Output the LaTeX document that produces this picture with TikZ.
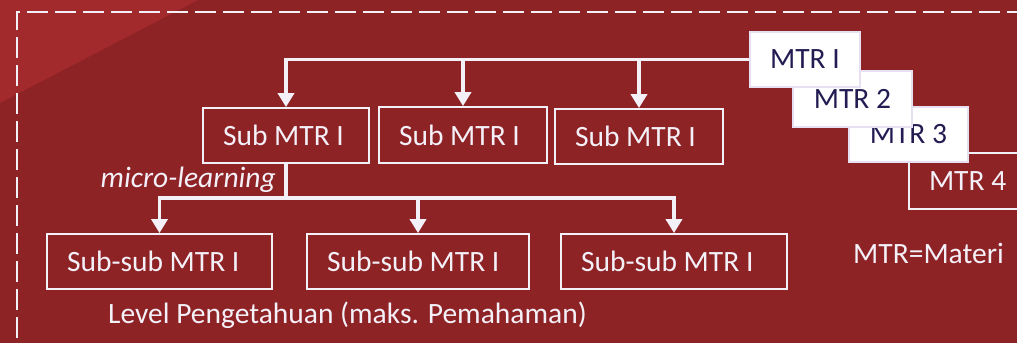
\documentclass[tikz,border=0pt]{standalone}
\usepackage{fontspec}
\setmainfont{Carlito}
\usetikzlibrary{arrows.meta}
\definecolor{bgdark}{HTML}{8E2326}
\definecolor{bglight}{HTML}{A2292C}
\definecolor{fg}{HTML}{F4F0F8}
\definecolor{navy}{HTML}{221C52}
\definecolor{mtredge}{HTML}{E6E0F2}
\newcommand{\bigfont}{\fontsize{29.5}{34}\selectfont}
\newcommand{\lbox}[2]{\makebox[#1][l]{#2}}
\tikzset{
  box/.style={draw=fg, line width=1.8pt, text=fg, inner ysep=0pt, inner xsep=20pt, font=\bigfont},
  wbox/.style={draw=mtredge, line width=1.5pt, fill=white, text=navy, inner sep=0pt, font=\bigfont},
  conn/.style={draw=fg, line width=3.5pt},
  arr/.style={conn, -{Triangle[width=16pt,length=14pt]}},
  label/.style={text=fg, inner sep=0pt, font=\bigfont},
}
\begin{document}
\begin{tikzpicture}[x=1pt,y=-1pt]
\useasboundingbox (0,0) rectangle (1017,343);
\clip (0,0) rectangle (1017,343);
\fill[bgdark] (0,0) rectangle (1017,343);
\fill[bglight] (0,0) -- (198,0) -- (0,103) -- cycle;
\draw[fg, line width=2pt, dash pattern=on 21pt off 7pt] (17,366) -- (17,12) -- (1040,12);

% MTR stack (bottom to top)
\node[box, fill=bgdark, minimum height=56pt] (m4) at (970,181) {\lbox{82pt}{MTR 4}};
\node[wbox, minimum width=119pt, minimum height=55pt] (m3) at (908.5,134.5) {MTR 3};
\node[wbox, minimum width=119pt, minimum height=56pt] (m2) at (852.5,99) {MTR 2};
\node[wbox, minimum width=110pt, minimum height=55pt] (m1) at (805,59.5) {MTR I};

% Sub MTR boxes
\node[box, minimum height=55pt] (s1) at (286,135.5) {\lbox{126pt}{Sub MTR I}};
\node[box, minimum height=56pt] (s2) at (463,135) {\lbox{128pt}{Sub MTR I}};
\node[box, minimum height=55pt] (s3) at (639,136.5) {\lbox{128pt}{Sub MTR I}};

% Sub-sub boxes
\node[box, minimum height=55pt] (ss1) at (159.5,261.5) {\lbox{185pt}{Sub-sub MTR I}};
\node[box, minimum height=55pt] (ss2) at (418,261.5) {\lbox{182pt}{Sub-sub MTR I}};
\node[box, minimum height=55pt] (ss3) at (674,261.5) {\lbox{186pt}{Sub-sub MTR I}};

% connectors top
\draw[arr] (m1.west) -| (s1.north);
\draw[arr] (s2.north |- m1.west) -- (s2.north);
\draw[arr] (s3.north |- m1.west) -- (s3.north);

% connectors bottom
\coordinate (bus) at (286,198);
\draw[conn] (s1.south) -- (bus);
\draw[arr] (bus) -| (ss1.north);
\draw[arr] (bus) -| (ss3.north);
\draw[arr] (ss2.north |- bus) -- (ss2.north);

% labels
\node[label, anchor=base east, font=\bigfont\itshape] (ml) at (276,187) {micro-learning};
\node[label, anchor=base west] (lvl) at (108,323) {Level Pengetahuan (maks. Pemahaman)};
\node[label, anchor=west] (leg) at (853,253) {MTR=Materi};
\end{tikzpicture}
\end{document}
